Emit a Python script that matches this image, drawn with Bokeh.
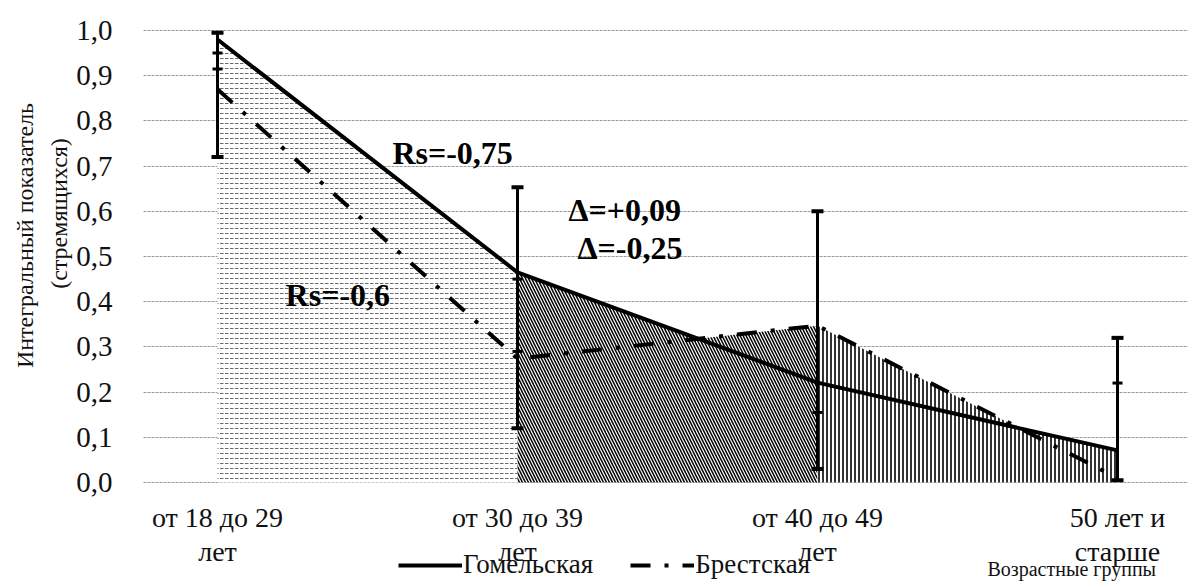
from bokeh.plotting import figure
from bokeh.models import (Range1d, FixedTicker, Whisker, TeeHead, ColumnDataSource,
                          Legend, LegendItem, Label)
from bokeh.core.properties import value
from bokeh.embed import file_html
from bokeh.resources import INLINE

# ---------------- data ----------------
categories = ["от 18 до 29\nлет", "от 30 до 39\nлет", "от 40 до 49\nлет", "50 лет и\nстарше"]
gomel = [0.98, 0.465, 0.221, 0.071]
brest = [0.87, 0.274, 0.347, 0.01]
err_low = [0.72, 0.12, 0.03, 0.005]
err_high = [0.995, 0.653, 0.60, 0.32]
mark_cat = [0, 0, 1, 1, 2, 3]
mark_val = [0.95, 0.915, 0.45, 0.29, 0.155, 0.22]
y_ticks = [round(i / 10, 1) for i in range(11)]
y_tick_labels = ["0,0", "0,1", "0,2", "0,3", "0,4", "0,5", "0,6", "0,7", "0,8", "0,9", "1,0"]
series_names = ["Гомельская", "Брестская"]
x_title = "Возрастные группы"
y_title = ["Интегральный показатель", "(стремящихся)"]
notes = ["Rs=-0,75", "Rs=-0,6", "Δ=+0,09", "Δ=-0,25"]
note_x = [0.583, 0.227, 1.17, 1.20]
note_y = [0.728, 0.415, 0.602, 0.518]

FONT = "Liberation Serif"
xs = list(range(len(categories)))

W, H = 1188, 583
PXX, PXY = 300.0, 452.0
# category 0 sits at x=217 px, value 0 at y=482 px
x0_px, y0_px = 217, 482
x_start = -x0_px / PXX
x_end = (W - x0_px) / PXX
y_end = y0_px / PXY
y_start = (y0_px - H) / PXY
grid_left = -0.247

p = figure(width=W, height=H, output_backend="svg", toolbar_location=None,
           x_range=Range1d(x_start, x_end), y_range=Range1d(y_start, y_end),
           min_border=0)
p.outline_line_color = None
p.background_fill_color = "white"
p.border_fill_color = "white"

# grid
p.xgrid.grid_line_color = None
p.ygrid.ticker = FixedTicker(ticks=y_ticks)
p.ygrid.grid_line_color = "#9a9a9a"
p.ygrid.grid_line_width = 1
p.ygrid.grid_line_dash = "3 1"
p.ygrid.cross_bounds = (grid_left, x_end)

# axes
p.xaxis.ticker = FixedTicker(ticks=xs)
p.xaxis.major_label_overrides = {i: c for i, c in zip(xs, categories)}
p.xaxis.fixed_location = 0
p.yaxis.ticker = FixedTicker(ticks=y_ticks)
p.yaxis.major_label_overrides = {t: l for t, l in zip(y_ticks, y_tick_labels)}
p.yaxis.fixed_location = grid_left
for ax in (p.xaxis, p.yaxis):
    ax.axis_line_color = None
    ax.major_tick_line_color = None
    ax.minor_tick_line_color = None
    ax.major_tick_in = 0
    ax.major_tick_out = 0
    ax.major_label_text_font = FONT
    ax.major_label_text_color = "#111111"
p.xaxis.major_label_text_font_size = "28px"
p.xaxis.major_label_text_line_height = 1.1
p.xaxis.major_label_standoff = 19
p.yaxis.major_label_text_font_size = "29px"
p.yaxis.major_label_standoff = 31


def envelope(i):
    g0, g1 = gomel[i], gomel[i + 1]
    b0, b1 = brest[i], brest[i + 1]
    ex = [xs[i]]
    ey = [max(g0, b0)]
    d0, d1 = g0 - b0, g1 - b1
    if d0 * d1 < 0:
        t = d0 / (d0 - d1)
        ex.append(xs[i] + t)
        ey.append(g0 + t * (g1 - g0))
    ex.append(xs[i + 1])
    ey.append(max(g1, b1))
    return ex, ey


hatches = [
    dict(hatch_pattern="horizontal_dash", hatch_color="#6a6a6a", hatch_scale=5, hatch_weight=1),
    dict(hatch_pattern="left_diagonal_line", hatch_color="#000000", hatch_scale=6, hatch_weight=1.5),
    dict(hatch_pattern="vertical_line", hatch_color="#000000", hatch_scale=4, hatch_weight=1.6),
]
for i, h in enumerate(hatches):
    ex, ey = envelope(i)
    p.varea(x=ex, y1=[0] * len(ex), y2=ey, fill_color="white", **h)

rg = p.line(xs, gomel, line_color="black", line_width=4)
rb = p.line(xs, brest, line_color="black", line_width=4, line_dash="20 14 4 14")

src = ColumnDataSource(dict(base=xs, lower=err_low, upper=err_high))
wh = Whisker(source=src, base="base", lower="lower", upper="upper",
             line_color="black", line_width=3,
             upper_head=TeeHead(size=12, line_width=4, line_color="black"),
             lower_head=TeeHead(size=12, line_width=4, line_color="black"))
wh.level = "overlay"
p.add_layout(wh)
p.scatter(mark_cat, mark_val, marker="dash", size=10, line_width=3, line_color="black")

p.text(x=note_x, y=note_y, text=notes, text_font=value(FONT), text_font_size="32px",
       text_font_style="bold", text_align="left", text_baseline="middle", text_color="black")

# y-axis title, two lines
p.add_layout(Label(x=(24 - x0_px) / PXX, y=(y0_px - 235) / PXY, text=y_title[0],
                   angle=90, angle_units="deg", text_font=FONT, text_font_size="24px",
                   text_align="center", text_baseline="middle", text_color="#111111"))
p.add_layout(Label(x=(58 - x0_px) / PXX, y=(y0_px - 213) / PXY, text=y_title[1],
                   angle=90, angle_units="deg", text_font=FONT, text_font_size="24px",
                   text_align="center", text_baseline="middle", text_color="#111111"))

# x-axis title placed at bottom right
p.add_layout(Label(x=(987 - x0_px) / PXX, y=(y0_px - 568) / PXY, text=x_title,
                   text_font=FONT, text_font_size="20px",
                   text_align="left", text_baseline="middle", text_color="#111111"))

legend = Legend(items=[LegendItem(label=series_names[0], renderers=[rg]),
                       LegendItem(label=series_names[1], renderers=[rb])],
                location=(398, 3), orientation="horizontal", glyph_width=64, glyph_height=20,
                label_standoff=1, spacing=37, padding=0, margin=0,
                border_line_color=None, background_fill_alpha=0,
                label_text_font=FONT, label_text_font_size="27px", label_text_color="#111111")
p.add_layout(legend, "center")

open("out.html", "w").write(file_html(p, INLINE))
